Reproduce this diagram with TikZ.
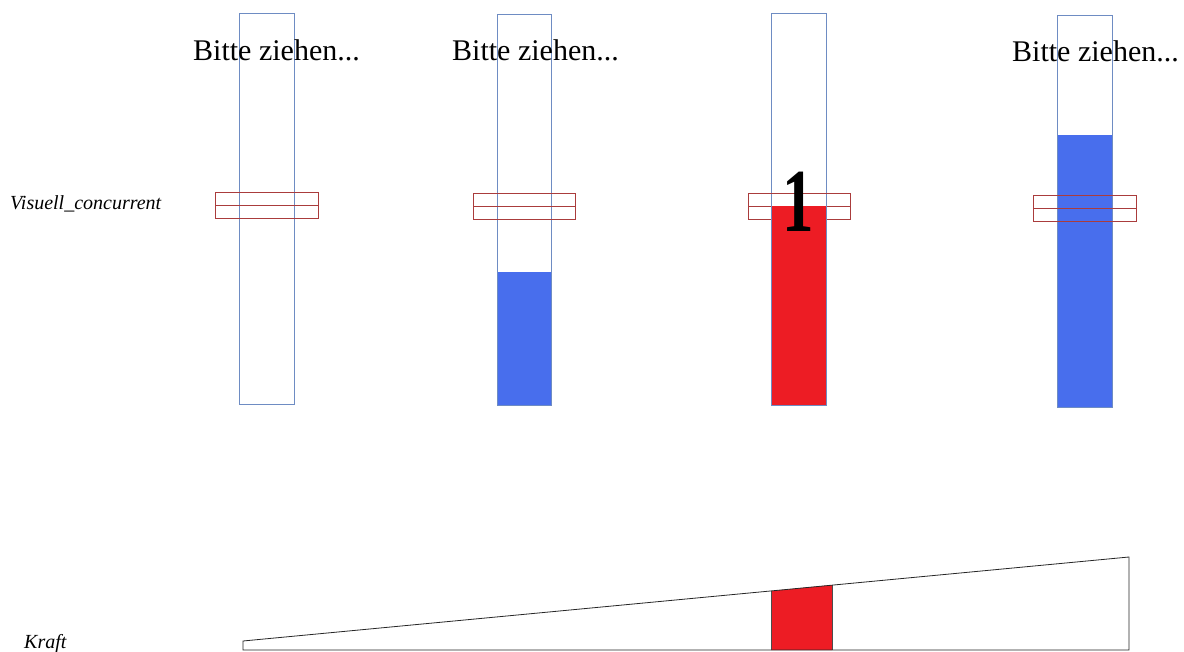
\documentclass[tikz,border=0pt]{standalone}
\usepackage{fontspec}
\setmainfont{Liberation Serif}
\definecolor{barline}{RGB}{110,140,195}
\definecolor{fillblue}{RGB}{72,110,237}
\definecolor{fillred}{RGB}{237,28,36}
\definecolor{boxred}{RGB}{170,60,60}
\tikzset{
  barframe/.style={draw=barline, line width=0.8pt},
  markbox/.style={draw=boxred, line width=0.8pt},
  bluefill/.style={fill=fillblue, draw=none},
  redfill/.style={fill=fillred, draw=none},
  prompt/.style={anchor=base west, inner sep=0pt, font=\fontsize{30}{30}\selectfont},
  sidelabel/.style={anchor=base west, inner sep=0pt, font=\itshape\fontsize{20}{20}\selectfont},
  wedge/.style={draw=black!85, line width=0.8pt}
}
\begin{document}
\begin{tikzpicture}[x=1pt,y=-1pt]
\useasboundingbox[fill=white] (0,0) rectangle (1184,652);

% labels
\node[sidelabel] (lvis) at (10,210) {Visuell\_concurrent};
\node[sidelabel] (lkraft) at (24,648) {Kraft};

% bar 1
\draw[barframe] (239,13) rectangle (294,404);
\draw[markbox] (215,192) rectangle (318,218);
\draw[markbox] (215,205) -- (318,205);
\node[prompt] (t1) at (193,61) {Bitte ziehen...};

% bar 2
\fill[bluefill] (497,272) rectangle (551,405);
\draw[barframe] (497,14) rectangle (551,405);
\draw[markbox] (473,193) rectangle (575,219);
\draw[markbox] (473,206) -- (575,206);
\node[prompt] (t2) at (452,61) {Bitte ziehen...};

% bar 3
\draw[barframe] (771,13) rectangle (826,405);
\draw[markbox] (748,193) rectangle (850,219);
\draw[markbox] (748,206) -- (850,206);
\fill[redfill] (771,206) rectangle (826,405);
\draw[barframe] (771,206) -- (771,405) -- (826,405) -- (826,206);
\node[anchor=base, inner sep=0pt, xscale=0.7, font=\bfseries\fontsize{90}{90}\selectfont] (one) at (798,232) {1};

% bar 4
\fill[bluefill] (1057,135) rectangle (1112,407);
\draw[barframe] (1057,15) rectangle (1112,407);
\draw[markbox] (1033,195) rectangle (1136,221);
\draw[markbox] (1033,208) -- (1136,208);
\node[prompt] (t4) at (1012,62) {Bitte ziehen...};

% force wedge
\fill[redfill] (771,591) -- (832,585) -- (832,650) -- (771,650) -- cycle;
\draw[black!70, line width=0.8pt] (771,591) -- (771,650) (832,585) -- (832,650);
\draw[wedge] (243,650) -- (243,641) -- (1129,557) -- (1129,650) -- cycle;
\end{tikzpicture}
\end{document}
